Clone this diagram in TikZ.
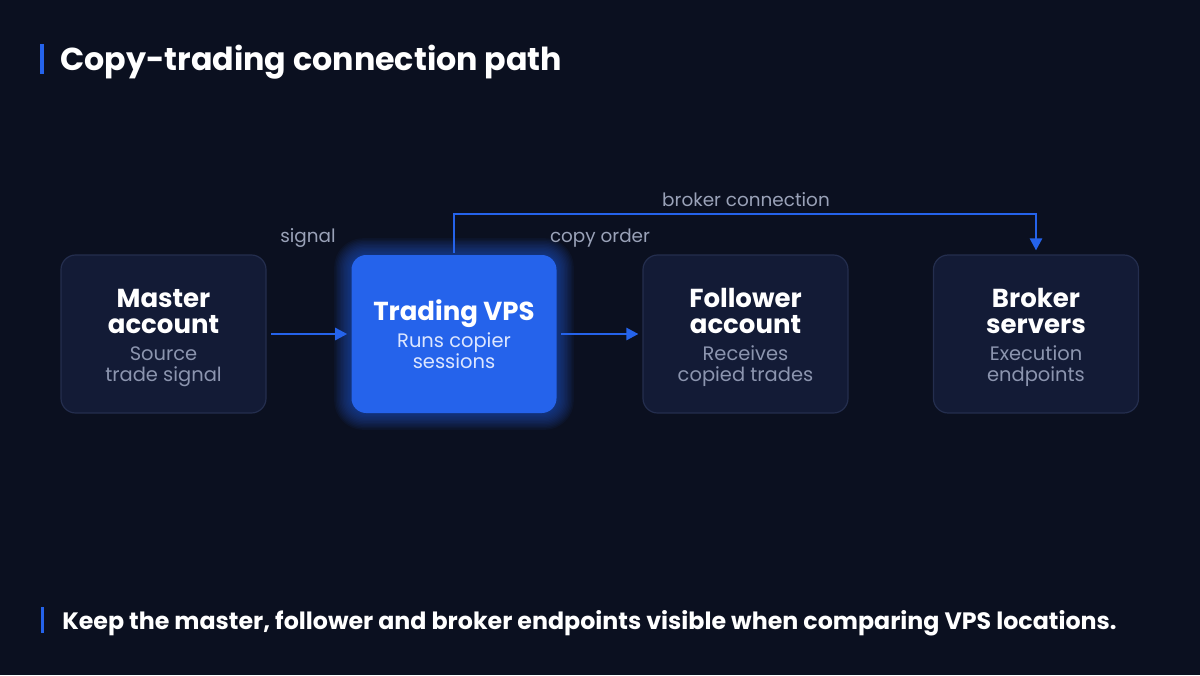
\documentclass[tikz,border=0pt]{standalone}
\usepackage{fontspec}
\setmainfont{Poppins}
\usetikzlibrary{arrows.meta}
\definecolor{bg}{HTML}{0B1020}
\definecolor{boxfill}{HTML}{131B36}
\definecolor{boxline}{HTML}{242E4E}
\definecolor{accent}{HTML}{2563EB}
\definecolor{subtxt}{HTML}{8C95AF}
\definecolor{lbltxt}{HTML}{9AA2B8}
\definecolor{vpssub}{HTML}{DCE6FF}
\tikzset{
  box/.style={draw=boxline, line width=0.9pt, fill=boxfill, rounded corners=11pt,
    minimum width=153.75pt, minimum height=118.5pt, inner sep=0pt},
  vpsbox/.style={fill=accent, rounded corners=11pt,
    minimum width=153.75pt, minimum height=118.5pt, inner sep=0pt},
  ttl/.style={text=white, font=\fontsize{19.5}{19.5}\selectfont\bfseries, align=center, inner sep=0pt},
  sub/.style={text=subtxt, font=\fontsize{14.6}{15.75}\selectfont, align=center, inner sep=0pt},
  lbl/.style={text=lbltxt, font=\fontsize{13.8}{15}\selectfont, inner sep=0pt},
  conn/.style={draw=accent, line width=1.9pt, -{Triangle[length=9pt,width=9pt]}},
}
\begin{document}
\begin{tikzpicture}[x=0.75pt,y=-0.75pt]
\path[fill=bg] (0,0) rectangle (1200,675);
\useasboundingbox (0,0) rectangle (1200,675);
% title
\fill[accent] (40,44) rectangle (44,74);
\node[anchor=west, text=white, font=\fontsize{23.8}{27}\selectfont\bfseries, inner sep=0pt] (title) at (60,62) {Copy-trading connection path};
% glow
\foreach \g in {1,...,12}{
  \fill[accent, opacity=0.05, rounded corners={11pt+\g*0.9pt}] ({351-\g*1.4},{255-\g*1.4}) rectangle ({557+\g*1.4},{413+\g*1.4});
}
% boxes
\node[box] (master) at (163.5,334) {};
\node[vpsbox] (vps) at (454,334) {};
\node[box] (follower) at (745.5,334) {};
\node[box] (broker) at (1036,334) {};
% texts
\node[ttl] (master-t) at (163.5,311) {Master\\account};
\node[sub] (master-s) at (163.5,366.5) {Source\\trade signal};
\node[ttl] (vps-t) at (454,314) {Trading VPS};
\node[sub, text=vpssub] (vps-s) at (454,350.5) {Runs copier\\sessions};
\node[ttl] (follower-t) at (745.5,311) {Follower\\account};
\node[sub] (follower-s) at (745.5,366.5) {Receives\\copied trades};
\node[ttl] (broker-t) at (1036,311) {Broker\\servers};
\node[sub] (broker-s) at (1036,366.5) {Execution\\endpoints};
% connectors
\draw[conn, shorten <=3.5pt, shorten >=3pt] (master.east) -- (vps.west);
\draw[conn, shorten <=3.5pt, shorten >=3pt] (vps.east) -- (follower.west);
\coordinate (bend) at (746,214);
\draw[conn, shorten >=3pt] ([yshift=1.5pt]vps.north) |- (bend) -| (broker.north);
% labels
\node[lbl] (l-signal) at (308,238) {signal};
\node[lbl] (l-copy) at (600,238) {copy order};
\node[lbl] (l-broker) at (746,200) {broker connection};
% footer
\fill[accent] (41,607) rectangle (44,633);
\node[anchor=west, text=white, font=\fontsize{17.8}{21}\selectfont\bfseries, inner sep=0pt] (footer) at (62,623) {Keep the master, follower and broker endpoints visible when comparing VPS locations.};
\end{tikzpicture}
\end{document}
